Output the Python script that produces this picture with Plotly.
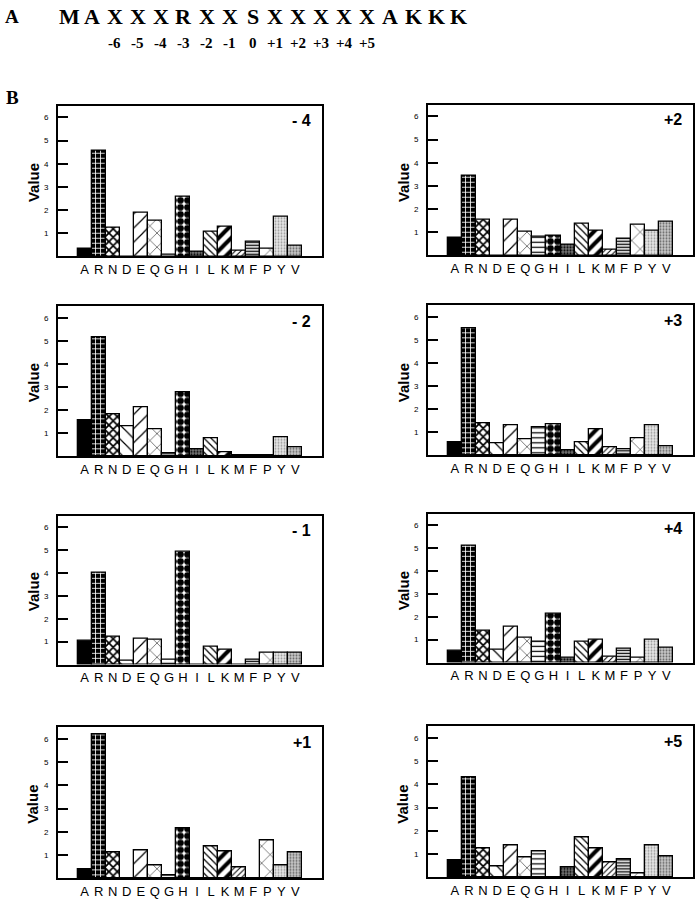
import plotly.graph_objects as go

# ---------------- data ----------------
amino_acids = ["A", "R", "N", "D", "E", "Q", "G", "H", "I", "L", "K", "M", "F", "P", "Y", "V"]

vals_m4 = [0.32, 4.55, 1.23, 0.00, 1.88, 1.52, 0.09, 2.57, 0.22, 1.07, 1.29, 0.26, 0.65, 0.32, 1.73, 0.45]
vals_p2 = [0.76, 3.42, 1.55, 0.00, 1.54, 1.00, 0.81, 0.87, 0.45, 1.37, 1.08, 0.26, 0.71, 1.31, 1.06, 1.44]
vals_m2 = [1.55, 5.17, 1.79, 1.31, 2.10, 1.18, 0.10, 2.76, 0.30, 0.78, 0.17, 0.05, 0.05, 0.05, 0.80, 0.37]
vals_p3 = [0.56, 5.52, 1.39, 0.51, 1.31, 0.68, 1.21, 1.33, 0.22, 0.56, 1.10, 0.32, 0.25, 0.71, 1.29, 0.36]
vals_m1 = [1.04, 4.01, 1.23, 0.15, 1.14, 1.07, 0.22, 4.94, 0.00, 0.77, 0.65, 0.00, 0.22, 0.49, 0.49, 0.49]
vals_p4 = [0.49, 5.09, 1.38, 0.55, 1.57, 1.08, 0.89, 2.12, 0.19, 0.92, 0.97, 0.25, 0.58, 0.22, 0.97, 0.63]
vals_p1 = [0.36, 6.20, 1.11, 0.00, 1.21, 0.56, 0.13, 2.13, 0.00, 1.38, 1.15, 0.45, 0.00, 1.64, 0.56, 1.10]
vals_p5 = [0.73, 4.32, 1.22, 0.48, 1.37, 0.84, 1.12, 0.00, 0.43, 1.71, 1.24, 0.63, 0.75, 0.16, 1.38, 0.88]

panel_labels = ["- 4", "+2", "- 2", "+3", "- 1", "+4", "+1", "+5"]
panel_values = [vals_m4, vals_p2, vals_m2, vals_p3, vals_m1, vals_p4, vals_p1, vals_p5]

y_ticks = [1, 2, 3, 4, 5, 6]

sequence = ["M", "A", "X", "X", "X", "R", "X", "X", "S", "X", "X", "X", "X", "X", "A", "K", "K", "K"]
position_labels = ["-6", "-5", "-4", "-3", "-2", "-1", "0", "+1", "+2", "+3", "+4", "+5"]

# ---------------- styles ----------------
W, H = 698, 899

def px_x(x):
    return x / W

def px_y(y):
    return 1 - y / H

pat_shape = ["", "+", "x", "\\", "/", "x", "-", ".", ".", "\\", "/", "/", "-", "x", ".", "."]
pat_fg = ["black", "white", "black", "black", "black", "black", "black", "black", "black",
          "black", "black", "black", "black", "black", "#999999", "#666666"]
pat_bg = ["black", "black", "white", "white", "white", "white", "white", "white", "#777777",
          "white", "white", "white", "white", "white", "#e6e6e6", "#c8c8c8"]
pat_size = [6, 5, 6, 10, 10, 10, 5, 7, 3, 5, 9, 4, 3, 12, 3, 3]
pat_sol = [0.5, 0.3, 0.5, 0.12, 0.12, 0.1, 0.25, 0.72, 0.4, 0.25, 0.45, 0.25, 0.45, 0.08, 0.3, 0.35]

# panel boxes in pixels: (left, right) and (top, bottom)
col_x = [(58, 322), (428, 693)]
row_y = [[(106, 257), (105, 256)],
         [(307, 457), (306, 456)],
         [(517, 666), (515, 664)],
         [(729, 880), (728, 879)]]

fig = go.Figure()
annotations = []
layout = {}

for k in range(8):
    r, c = divmod(k, 2)
    xl, xr = col_x[c]
    yt, yb = row_y[r][c]
    ax = "" if k == 0 else str(k + 1)
    fig.add_trace(go.Bar(
        x=list(range(len(amino_acids))),
        y=panel_values[k],
        width=1.0,
        xaxis="x" + ax, yaxis="y" + ax,
        marker=dict(
            color="black",
            line=dict(color="black", width=1.3),
            pattern=dict(shape=pat_shape, fgcolor=pat_fg, bgcolor=pat_bg,
                         size=pat_size, solidity=pat_sol, fillmode="replace"),
        ),
        showlegend=False, hoverinfo="skip",
    ))
    layout["xaxis" + ax] = dict(
        domain=[px_x(xl), px_x(xr)], anchor="y" + ax,
        range=[-1.9, 16.9], tickvals=list(range(len(amino_acids))), ticktext=amino_acids,
        ticks="", showline=True, mirror=True, linecolor="black", linewidth=2,
        showgrid=False, zeroline=False,
        tickfont=dict(family="Liberation Sans, Arial", size=13, color="black"),
    )
    layout["yaxis" + ax] = dict(
        domain=[px_y(yb), px_y(yt)], anchor="x" + ax,
        range=[0, 6.5], tickvals=y_ticks, ticks="inside", ticklen=10, tickwidth=2,
        tickcolor="black", showline=True, mirror=True, linecolor="black", linewidth=2,
        showgrid=False, zeroline=False, ticklabelstandoff=6,
        tickfont=dict(family="Liberation Sans, Arial", size=8, color="black"),
    )
    annotations.append(dict(
        text="<b>%s</b>" % panel_labels[k], xref="paper", yref="paper",
        x=px_x(xr - 9), y=px_y(yt + 15), xanchor="right", yanchor="middle",
        showarrow=False, font=dict(family="Liberation Sans, Arial", size=16, color="black"),
    ))
    annotations.append(dict(
        text="<b>Value</b>", xref="paper", yref="paper", textangle=-90,
        x=px_x(xl - 25), y=px_y((yt + yb) / 2 + 2), xanchor="center", yanchor="middle",
        showarrow=False, font=dict(family="Liberation Sans, Arial", size=15, color="black"),
    ))

# Panel letters
for letter, ypx in (("A", 17), ("B", 98)):
    annotations.append(dict(
        text="<b>%s</b>" % letter, xref="paper", yref="paper", x=px_x(12), y=px_y(ypx),
        xanchor="center", yanchor="middle", showarrow=False,
        font=dict(family="Liberation Serif, Times New Roman", size=19, color="black"),
    ))

# Sequence line
seq_x0, seq_dx = 69, 22.94
for i, s in enumerate(sequence):
    annotations.append(dict(
        text="<b>%s</b>" % s, xref="paper", yref="paper", x=px_x(seq_x0 + i * seq_dx), y=px_y(17),
        xanchor="center", yanchor="middle", showarrow=False,
        font=dict(family="Liberation Serif, Times New Roman", size=22, color="black"),
    ))
for j, p in enumerate(position_labels):
    annotations.append(dict(
        text="<b>%s</b>" % p, xref="paper", yref="paper", x=px_x(seq_x0 + (j + 2) * seq_dx), y=px_y(43),
        xanchor="center", yanchor="middle", showarrow=False,
        font=dict(family="Liberation Serif, Times New Roman", size=15, color="black"),
    ))

fig.update_layout(
    width=W, height=H, margin=dict(l=0, r=0, t=0, b=0),
    paper_bgcolor="white", plot_bgcolor="white",
    bargap=0, annotations=annotations, **layout,
)

fig.write_html(
    "out.html",
    config={"displayModeBar": False},
    post_script="document.body.style.margin='0';document.body.style.overflow='hidden';",
)
